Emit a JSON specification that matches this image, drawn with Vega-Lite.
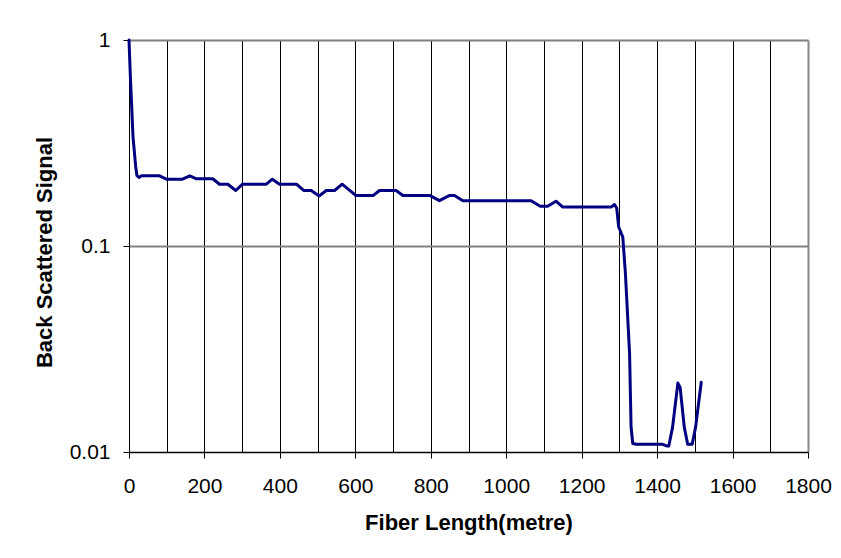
{
  "$schema": "https://vega.github.io/schema/vega-lite/v6.json",
  "width": 679,
  "height": 412,
  "autosize": {"type": "none"},
  "padding": {"left": 129, "top": 40, "right": 33, "bottom": 106},
  "background": "white",
  "config": {"view": {"stroke": null}, "font": "Liberation Sans"},
  "data": {"values": [
    {"length": 0, "signal": 1},
    {"length": 3.7, "signal": 0.66},
    {"length": 10.6, "signal": 0.339},
    {"length": 17.8, "signal": 0.242},
    {"length": 21, "signal": 0.22},
    {"length": 26.5, "signal": 0.215},
    {"length": 33, "signal": 0.219},
    {"length": 81, "signal": 0.219},
    {"length": 99, "signal": 0.211},
    {"length": 142, "signal": 0.211},
    {"length": 161, "signal": 0.219},
    {"length": 179, "signal": 0.212},
    {"length": 222, "signal": 0.212},
    {"length": 240, "signal": 0.1995},
    {"length": 262, "signal": 0.1995},
    {"length": 283, "signal": 0.186},
    {"length": 301, "signal": 0.1995},
    {"length": 364, "signal": 0.1995},
    {"length": 380, "signal": 0.211},
    {"length": 399, "signal": 0.1995},
    {"length": 444, "signal": 0.1995},
    {"length": 463, "signal": 0.186},
    {"length": 483, "signal": 0.186},
    {"length": 504, "signal": 0.175},
    {"length": 523, "signal": 0.186},
    {"length": 545, "signal": 0.186},
    {"length": 565, "signal": 0.1995},
    {"length": 601, "signal": 0.176},
    {"length": 648, "signal": 0.176},
    {"length": 664, "signal": 0.186},
    {"length": 708, "signal": 0.186},
    {"length": 726, "signal": 0.176},
    {"length": 797, "signal": 0.176},
    {"length": 823, "signal": 0.166},
    {"length": 850, "signal": 0.176},
    {"length": 863, "signal": 0.176},
    {"length": 885, "signal": 0.166},
    {"length": 1066, "signal": 0.166},
    {"length": 1090, "signal": 0.156},
    {"length": 1110, "signal": 0.156},
    {"length": 1132, "signal": 0.165},
    {"length": 1150, "signal": 0.1545},
    {"length": 1278, "signal": 0.1545},
    {"length": 1287, "signal": 0.159},
    {"length": 1293, "signal": 0.1525},
    {"length": 1298, "signal": 0.124},
    {"length": 1309, "signal": 0.1106},
    {"length": 1316, "signal": 0.0734},
    {"length": 1327, "signal": 0.0301},
    {"length": 1331, "signal": 0.0132},
    {"length": 1335.5, "signal": 0.011},
    {"length": 1344.5, "signal": 0.0109},
    {"length": 1415, "signal": 0.0109},
    {"length": 1425, "signal": 0.0107},
    {"length": 1431, "signal": 0.0107},
    {"length": 1441, "signal": 0.0132},
    {"length": 1455, "signal": 0.0216},
    {"length": 1461, "signal": 0.0206},
    {"length": 1472, "signal": 0.0132},
    {"length": 1481, "signal": 0.0109},
    {"length": 1493, "signal": 0.0109},
    {"length": 1502, "signal": 0.0132},
    {"length": 1517, "signal": 0.0218}
  ]},
  "mark": {"type": "line", "color": "#000080", "strokeWidth": 3, "strokeJoin": "round", "strokeCap": "round"},
  "encoding": {
    "x": {
      "field": "length",
      "type": "quantitative",
      "scale": {"domain": [0, 1800], "nice": false, "zero": false},
      "axis": {
        "values": [0, 100, 200, 300, 400, 500, 600, 700, 800, 900, 1000, 1100, 1200, 1300, 1400, 1500, 1600, 1700, 1800],
        "labelExpr": "datum.value % 200 === 0 ? format(datum.value, 'd') : ''",
        "grid": true,
        "gridColor": {"condition": {"test": "datum.value === 1800", "value": "#888888"}, "value": "#000000"},
        "gridWidth": {"condition": {"test": "datum.value === 1800", "value": 2}, "value": 1},
        "domainColor": "#000000",
        "domainWidth": 1.5,
        "tickColor": "#000000",
        "tickSize": 6,
        "tickOpacity": {"condition": {"test": "datum.value % 200 === 0", "value": 1}, "value": 0},
        "labelFontSize": 21,
        "labelColor": "#000000",
        "labelBaseline": "alphabetic",
        "labelPadding": 34,
        "labelFlush": false,
        "labelOverlap": false,
        "title": "Fiber Length(metre)",
        "titleFontSize": 22,
        "titleFontWeight": "bold",
        "titleColor": "#000000",
        "titleBaseline": "alphabetic",
        "titleY": 77
      }
    },
    "y": {
      "field": "signal",
      "type": "quantitative",
      "scale": {"type": "log", "domain": [0.01, 1], "nice": false},
      "axis": {
        "values": [0.01, 0.1, 1],
        "labelExpr": "datum.value >= 1 ? '1' : (datum.value >= 0.1 ? '0.1' : '0.01')",
        "grid": true,
        "gridColor": {"condition": {"test": "datum.value < 0.05", "value": "transparent"}, "value": "#808080"},
        "gridWidth": 2,
        "domainColor": "#000000",
        "domainWidth": 1,
        "tickColor": "#000000",
        "tickSize": 6,
        "labelFontSize": 21,
        "labelColor": "#000000",
        "labelPadding": 13,
        "labelFlush": false,
        "title": "Back Scattered Signal",
        "titleFontSize": 22,
        "titleFontWeight": "bold",
        "titleColor": "#000000",
        "titleAngle": 270,
        "titleAlign": "center",
        "titleBaseline": "alphabetic",
        "titleX": -78,
        "titleY": 212
      }
    }
  }
}
